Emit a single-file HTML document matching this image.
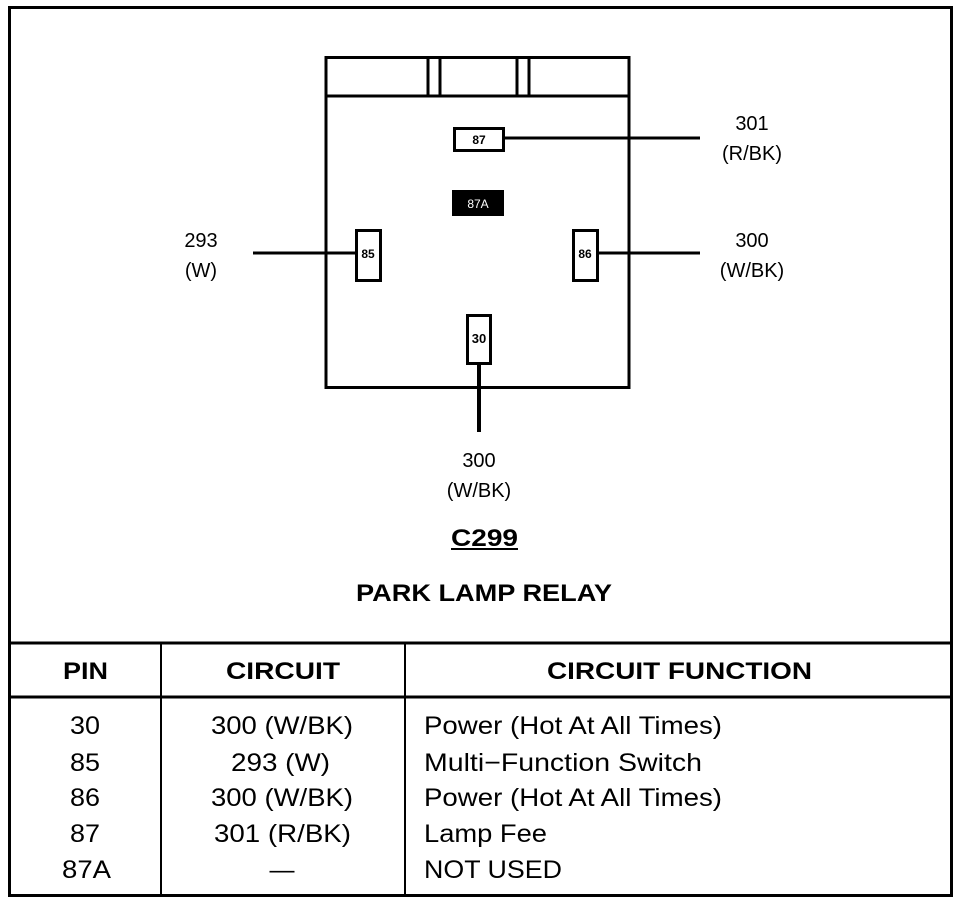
<!DOCTYPE html>
<html><head><meta charset="utf-8"><style>
html,body{margin:0;padding:0;background:#fff;}
svg{display:block;}
text{font-family:"Liberation Sans",Arial,sans-serif;fill:#000;}
</style></head><body>
<svg width="960" height="904" viewBox="0 0 960 904" xmlns="http://www.w3.org/2000/svg">
<rect x="0" y="0" width="960" height="904" fill="#fff"/>
<rect x="9.5" y="7.5" width="942" height="888" fill="none" stroke="#000" stroke-width="3"/>
<line x1="9" y1="643" x2="952" y2="643" stroke="#000" stroke-width="3"/>
<line x1="9" y1="697" x2="952" y2="697" stroke="#000" stroke-width="3"/>
<line x1="161" y1="643" x2="161" y2="896" stroke="#000" stroke-width="2"/>
<line x1="405" y1="643" x2="405" y2="896" stroke="#000" stroke-width="2"/>

<rect x="326" y="57.5" width="303" height="330" fill="none" stroke="#000" stroke-width="3"/>
<line x1="326" y1="96" x2="629" y2="96" stroke="#000" stroke-width="3"/>
<line x1="428" y1="57" x2="428" y2="96" stroke="#000" stroke-width="3"/>
<line x1="440" y1="57" x2="440" y2="96" stroke="#000" stroke-width="3"/>
<line x1="517" y1="57" x2="517" y2="96" stroke="#000" stroke-width="3"/>
<line x1="529" y1="57" x2="529" y2="96" stroke="#000" stroke-width="3"/>

<rect x="454.5" y="128.5" width="49" height="22" fill="#fff" stroke="#000" stroke-width="3"/>
<text x="479" y="144" font-size="12" font-weight="bold" text-anchor="middle">87</text>
<rect x="452" y="190" width="52" height="26" fill="#000"/>
<text x="478" y="208" font-size="12" text-anchor="middle" style="fill:#fff">87A</text>
<rect x="356.5" y="230.5" width="24" height="50" fill="#fff" stroke="#000" stroke-width="3"/>
<text x="368" y="258" font-size="12" font-weight="bold" text-anchor="middle">85</text>
<rect x="573.5" y="230.5" width="24" height="50" fill="#fff" stroke="#000" stroke-width="3"/>
<text x="585" y="258" font-size="12" font-weight="bold" text-anchor="middle">86</text>
<rect x="467.5" y="315.5" width="23" height="48" fill="#fff" stroke="#000" stroke-width="3"/>
<text x="479" y="343" font-size="13" font-weight="bold" text-anchor="middle">30</text>

<line x1="505" y1="138" x2="700" y2="138" stroke="#000" stroke-width="3"/>
<line x1="253" y1="253" x2="356" y2="253" stroke="#000" stroke-width="3"/>
<line x1="598" y1="253" x2="700" y2="253" stroke="#000" stroke-width="3"/>
<line x1="479" y1="364" x2="479" y2="432" stroke="#000" stroke-width="4"/>

<g font-size="20" text-anchor="middle">
<text x="752" y="130">301</text>
<text x="752" y="160">(R/BK)</text>
<text x="201" y="247">293</text>
<text x="201" y="277">(W)</text>
<text x="752" y="247">300</text>
<text x="752" y="277">(W/BK)</text>
<text x="479" y="467">300</text>
<text x="479" y="497">(W/BK)</text>
</g>
<text x="451" y="546" font-size="24" font-weight="bold" textLength="67" lengthAdjust="spacingAndGlyphs">C299</text>
<line x1="451" y1="549" x2="518" y2="549" stroke="#000" stroke-width="2"/>
<text x="356" y="601" font-size="24" font-weight="bold" textLength="256" lengthAdjust="spacingAndGlyphs">PARK LAMP RELAY</text>

<g font-size="24" font-weight="bold">
<text x="63" y="679" textLength="45" lengthAdjust="spacingAndGlyphs">PIN</text>
<text x="226" y="679" textLength="114" lengthAdjust="spacingAndGlyphs">CIRCUIT</text>
<text x="547" y="679" textLength="265" lengthAdjust="spacingAndGlyphs">CIRCUIT FUNCTION</text>
</g>
<g font-size="25">
<text x="70" y="734" textLength="30" lengthAdjust="spacingAndGlyphs">30</text>
<text x="70" y="771" textLength="30" lengthAdjust="spacingAndGlyphs">85</text>
<text x="70" y="806" textLength="30" lengthAdjust="spacingAndGlyphs">86</text>
<text x="70" y="842" textLength="30" lengthAdjust="spacingAndGlyphs">87</text>
<text x="62" y="878" textLength="49" lengthAdjust="spacingAndGlyphs">87A</text>
<text x="211" y="734" textLength="142" lengthAdjust="spacingAndGlyphs">300 (W/BK)</text>
<text x="231" y="771" textLength="99" lengthAdjust="spacingAndGlyphs">293 (W)</text>
<text x="211" y="806" textLength="142" lengthAdjust="spacingAndGlyphs">300 (W/BK)</text>
<text x="214" y="842" textLength="137" lengthAdjust="spacingAndGlyphs">301 (R/BK)</text>
<text x="282" y="878" text-anchor="middle">—</text>
<text x="424" y="734" textLength="298" lengthAdjust="spacingAndGlyphs">Power (Hot At All Times)</text>
<text x="424" y="771" textLength="278" lengthAdjust="spacingAndGlyphs">Multi−Function Switch</text>
<text x="424" y="806" textLength="298" lengthAdjust="spacingAndGlyphs">Power (Hot At All Times)</text>
<text x="424" y="842" textLength="123" lengthAdjust="spacingAndGlyphs">Lamp Fee</text>
<text x="424" y="878" textLength="138" lengthAdjust="spacingAndGlyphs">NOT USED</text>
</g>
</svg>
</body></html>
